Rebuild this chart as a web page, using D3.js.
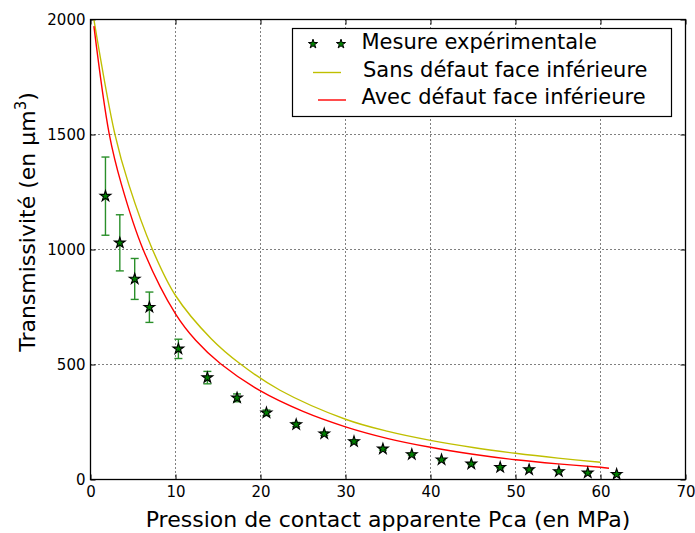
<!DOCTYPE html>
<html><head><meta charset="utf-8">
<script src="https://cdn.jsdelivr.net/npm/d3@7"></script>
<style>
body{margin:0;background:#fff;}
text{font-family:"DejaVu Sans",sans-serif;}
</style></head>
<body>
<svg id="chart" width="695" height="533"></svg>
<script>
// Experimental measurements
const expPressure = [1.76, 3.45, 5.2, 6.93, 10.34, 13.75, 17.24, 20.7, 24.2, 27.5, 31.0, 34.4, 37.8, 41.3, 44.8, 48.2, 51.6, 55.1, 58.5, 61.9];
const expTrans    = [1232, 1029, 872, 749, 568, 443, 355, 290, 239, 199, 165, 133, 109, 86, 68, 53, 43, 35, 29, 23];
const expErr      = [170, 122, 89, 66, 42, 27, 17, 12, 9, 7, 6, 5, 4, 4, 3, 3, 2, 2, 2, 2];
// Model without lower face defect
const sansP = [0.4, 2.86, 4.5, 7.29, 10, 14.2, 17.6, 22.3, 30, 35, 40, 45, 50, 55, 60];
const sansT = [2000, 1503, 1283, 1000, 800, 612, 503, 388, 262, 209, 170, 139, 114, 93, 75];
// Model with lower face defect
const avecP = [0.4, 2.2, 3.64, 6.19, 10, 12.4, 15.3, 20, 25, 30, 35, 40, 45, 50, 55, 60, 61];
const avecT = [1971, 1503, 1283, 1000, 720, 604, 503, 385, 296, 229, 178, 140, 110, 86, 68, 53, 49];
// Ticks
const xTicks = [0, 10, 20, 30, 40, 50, 60, 70];
const yTicks = [0, 500, 1000, 1500, 2000];
const legendLabels = ["Mesure expérimentale", "Sans défaut face inférieure", "Avec défaut face inférieure"];

const svg = d3.select("#chart");
const L = 90.5, R = 685.5, T = 19.5, B = 479.5;
const x = d3.scaleLinear().domain([0, 70]).range([L, R]);
const y = d3.scaleLinear().domain([0, 2000]).range([B, T]);

// grid
const g = svg.append("g");
g.selectAll(".gx").data(xTicks.slice(1, -1)).enter().append("line")
  .attr("x1", d => x(d)).attr("x2", d => x(d)).attr("y1", T).attr("y2", B)
  .attr("stroke", "#000").attr("stroke-width", 1).attr("stroke-dasharray", "1,3");
g.selectAll(".gy").data(yTicks.slice(1, -1)).enter().append("line")
  .attr("y1", d => y(d)).attr("y2", d => y(d)).attr("x1", L).attr("x2", R)
  .attr("stroke", "#000").attr("stroke-width", 1).attr("stroke-dasharray", "1,3");

// axes with inward ticks
const fs = "15px";
const axB = svg.append("g").attr("transform", `translate(0,${B})`)
  .call(d3.axisBottom(x).tickValues(xTicks).tickSize(-5).tickPadding(7).tickFormat(d3.format("d")));
const axT = svg.append("g").attr("transform", `translate(0,${T})`)
  .call(d3.axisTop(x).tickValues(xTicks).tickSize(-5).tickFormat(""));
const axL = svg.append("g").attr("transform", `translate(${L},0)`)
  .call(d3.axisLeft(y).tickValues(yTicks).tickSize(-5).tickPadding(5).tickFormat(d3.format("d")));
const axR = svg.append("g").attr("transform", `translate(${R},0)`)
  .call(d3.axisRight(y).tickValues(yTicks).tickSize(-5).tickFormat(""));
[axB, axT, axL, axR].forEach(a => {
  a.select(".domain").remove();
  a.selectAll("text").attr("font-size", fs).attr("fill", "#000").attr("font-family", "DejaVu Sans");
  a.selectAll("line").attr("stroke", "#000");
});
axL.selectAll("text").attr("dy", "0.35em");

// curves
const line = d3.line().x(d => x(d[0])).y(d => y(d[1])).curve(d3.curveCatmullRom.alpha(0.5));
svg.append("path").datum(d3.zip(sansP, sansT)).attr("d", line)
  .attr("fill", "none").attr("stroke", "#bfbf00").attr("stroke-width", 1.4);
svg.append("path").datum(d3.zip(avecP, avecT)).attr("d", line)
  .attr("fill", "none").attr("stroke", "#ff0000").attr("stroke-width", 1.4);

// error bars
const exp = expPressure.map((p, i) => ({p, t: expTrans[i], e: expErr[i]}));
const eb = svg.append("g").attr("stroke", "#2a8f2a").attr("stroke-width", 1.4);
exp.forEach(d => {
  eb.append("line").attr("x1", x(d.p)).attr("x2", x(d.p)).attr("y1", y(d.t - d.e)).attr("y2", y(d.t + d.e));
  eb.append("line").attr("x1", x(d.p) - 4).attr("x2", x(d.p) + 4).attr("y1", y(d.t - d.e)).attr("y2", y(d.t - d.e));
  eb.append("line").attr("x1", x(d.p) - 4).attr("x2", x(d.p) + 4).attr("y1", y(d.t + d.e)).attr("y2", y(d.t + d.e));
});
const star = d3.symbol().type(d3.symbolStar).size(36);
svg.append("g").selectAll("path").data(exp).enter().append("path")
  .attr("d", star).attr("transform", d => `translate(${x(d.p)},${y(d.t)})`)
  .attr("fill", "#008000").attr("stroke", "#000").attr("stroke-width", 1.1);

// frame
svg.append("rect").attr("x", L).attr("y", T).attr("width", R - L).attr("height", B - T)
  .attr("fill", "none").attr("stroke", "#000").attr("stroke-width", 1.3);

// axis labels
svg.append("text").attr("x", (L + R) / 2).attr("y", 527).attr("text-anchor", "middle")
  .attr("font-family", "Liberation Sans").attr("font-size", "22px")
  .text("Pression de contact apparente Pca (en MPa)");
const yl = svg.append("text").attr("transform", "translate(35,222) rotate(-90)")
  .attr("text-anchor", "middle").attr("font-family", "Liberation Sans").attr("font-size", "22px");
yl.append("tspan").text("Transmissivité (en µm");
yl.append("tspan").attr("font-size", "15px").attr("dy", "-9").text("3");
yl.append("tspan").attr("dy", "9").text(")");

// legend
const lg = svg.append("g");
lg.append("rect").attr("x", 292.5).attr("y", 28.5).attr("width", 379).attr("height", 88)
  .attr("fill", "#fff").attr("stroke", "#000").attr("stroke-width", 1.2);
const rows = [42, 69.5, 97];
[313, 341].forEach(px => lg.append("path").attr("d", d3.symbol().type(d3.symbolStar).size(26))
  .attr("transform", `translate(${px},44)`).attr("fill", "#008000").attr("stroke", "#000").attr("stroke-width", 1));
lg.append("line").attr("x1", 313).attr("x2", 341).attr("y1", 72.5).attr("y2", 72.5).attr("stroke", "#bfbf00").attr("stroke-width", 1.4);
lg.append("line").attr("x1", 318).attr("x2", 346).attr("y1", 100).attr("y2", 100).attr("stroke", "#ff0000").attr("stroke-width", 1.4);
legendLabels.forEach((t, i) => lg.append("text").attr("x", i === 1 ? 363 : 361.5).attr("y", rows[i]).attr("dy", "0.35em")
  .attr("font-size", "21px").text(t));
</script>
</body></html>
